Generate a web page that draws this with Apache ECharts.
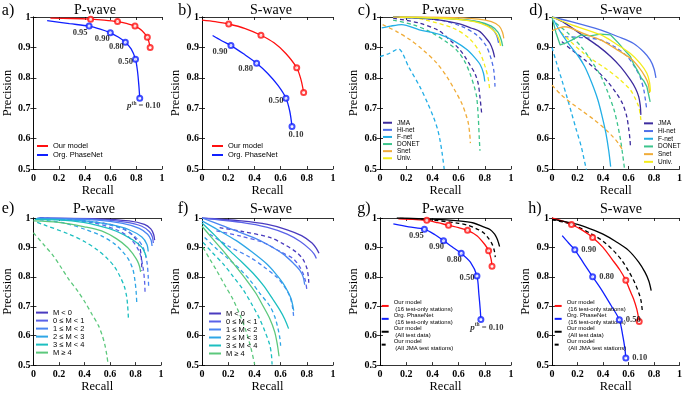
<!DOCTYPE html>
<html>
<head>
<meta charset="utf-8">
<script src="https://cdn.jsdelivr.net/npm/echarts@6/dist/echarts.min.js"></script>
<style>
html,body{margin:0;padding:0;background:#fff}
#chart{width:685px;height:394px}
</style>
</head>
<body>
<div id="chart"></div>
<script>
// ---- a) P-wave, our model vs org. PhaseNet
const aOurs = [[0.132,0.996],[0.3,0.995],[0.445,0.993],[0.55,0.99],[0.654,0.985],[0.73,0.978],[0.79,0.97],[0.845,0.955],[0.886,0.933],[0.9,0.915],[0.908,0.90]]
const aOursMarks = [[0.445,0.993],[0.654,0.985],[0.79,0.97],[0.886,0.933],[0.908,0.90]]
const aOrg = [[0.107,0.988],[0.28,0.978],[0.433,0.97],[0.52,0.96],[0.598,0.948],[0.66,0.934],[0.715,0.917],[0.76,0.895],[0.794,0.861],[0.81,0.82],[0.82,0.775],[0.827,0.733]]
const aOrgMarks = [[0.433,0.97],[0.598,0.948],[0.715,0.917],[0.794,0.861],[0.827,0.733]]
const aOrgLabels = ['0.95','0.90','0.80','0.50','{i|p}{s|th} = 0.10']

// ---- b) S-wave
const bOurs = [[0.0,0.99],[0.1,0.985],[0.204,0.977],[0.33,0.962],[0.45,0.94],[0.55,0.915],[0.64,0.88],[0.723,0.833],[0.755,0.795],[0.776,0.752]]
const bOursMarks = [[0.204,0.977],[0.45,0.94],[0.723,0.833],[0.776,0.752]]
const bOrg = [[0.081,0.939],[0.15,0.922],[0.221,0.906],[0.32,0.878],[0.417,0.848],[0.5,0.815],[0.58,0.775],[0.641,0.733],[0.67,0.69],[0.687,0.64]]
const bOrgMarks = [[0.221,0.906],[0.417,0.848],[0.641,0.733],[0.687,0.64]]
const bOrgLabels = ['0.90','0.80','0.50','0.10']

// ---- c) P-wave by network (solid = our model, dashed = org. PhaseNet)
const networks = ['JMA','Hi-net','F-net','DONET','Snet','Univ.']
const cOurs = [
  [[0.1,1.0],[0.4,0.993],[0.6,0.978],[0.7,0.963],[0.763,0.952],[0.81,0.93],[0.84,0.913],[0.862,0.89],[0.875,0.867]],
  [[0.1,1.0],[0.5,0.996],[0.7,0.988],[0.8,0.977],[0.86,0.96],[0.89,0.94],[0.905,0.915]],
  [[0.013,0.964],[0.08,0.97],[0.166,0.975],[0.3,0.958],[0.46,0.942],[0.57,0.92],[0.663,0.893],[0.72,0.868],[0.765,0.843],[0.79,0.815],[0.80,0.788]],
  [[0.1,1.0],[0.5,0.995],[0.75,0.985],[0.85,0.97],[0.9,0.95],[0.925,0.925],[0.936,0.904]],
  [[0.1,1.0],[0.5,0.999],[0.75,0.993],[0.85,0.985],[0.91,0.97],[0.935,0.95],[0.945,0.93]],
  [[0.15,1.0],[0.5,0.995],[0.72,0.985],[0.82,0.97],[0.88,0.95],[0.91,0.925],[0.92,0.905]]
]
const cOrg = [
  [[0.1,0.996],[0.3,0.98],[0.45,0.955],[0.534,0.924],[0.6,0.897],[0.649,0.869],[0.69,0.84],[0.725,0.814],[0.75,0.78],[0.763,0.737],[0.772,0.7],[0.778,0.675]],
  [[0.15,0.999],[0.45,0.99],[0.62,0.97],[0.74,0.94],[0.81,0.905],[0.85,0.86],[0.87,0.82],[0.878,0.771]],
  [[0.0,0.87],[0.07,0.88],[0.14,0.895],[0.22,0.835],[0.305,0.77],[0.36,0.72],[0.407,0.672],[0.44,0.63],[0.458,0.595],[0.475,0.55],[0.49,0.5]],
  [[0.1,0.99],[0.25,0.975],[0.38,0.952],[0.5,0.92],[0.585,0.891],[0.645,0.855],[0.687,0.814],[0.72,0.77],[0.738,0.737],[0.75,0.672],[0.758,0.6],[0.763,0.56]],
  [[0.02,0.975],[0.127,0.952],[0.23,0.925],[0.33,0.891],[0.43,0.85],[0.51,0.804],[0.57,0.76],[0.623,0.717],[0.655,0.68],[0.674,0.651],[0.685,0.615],[0.69,0.585]],
  [[0.3,0.995],[0.55,0.965],[0.68,0.93],[0.76,0.885],[0.8,0.84],[0.825,0.8],[0.836,0.766]]
]

// ---- d) S-wave by network
const dOurs = [
  [[0,1.0],[0.1,0.98],[0.256,0.935],[0.36,0.905],[0.46,0.87],[0.54,0.835],[0.615,0.793],[0.655,0.765],[0.68,0.738],[0.692,0.71],[0.697,0.678]],
  [[0,1.0],[0.15,0.985],[0.385,0.957],[0.52,0.935],[0.64,0.913],[0.72,0.885],[0.77,0.859],[0.8,0.83],[0.815,0.8]],
  [[0.013,0.99],[0.06,0.955],[0.128,0.913],[0.2,0.875],[0.256,0.837],[0.31,0.785],[0.36,0.727],[0.395,0.67],[0.423,0.617],[0.445,0.56],[0.46,0.508]],
  [[0.0,1.0],[0.03,0.95],[0.064,0.908],[0.11,0.915],[0.154,0.924],[0.23,0.941],[0.3,0.938],[0.38,0.944],[0.46,0.941],[0.52,0.915],[0.56,0.895],[0.615,0.87],[0.64,0.845],[0.667,0.826],[0.7,0.8],[0.72,0.79],[0.744,0.771],[0.755,0.75],[0.77,0.721]],
  [[0,0.955],[0.05,0.963],[0.1,0.968],[0.25,0.945],[0.385,0.924],[0.5,0.895],[0.615,0.864],[0.68,0.835],[0.73,0.804],[0.755,0.78],[0.765,0.75]],
  [[0,1.0],[0.15,0.975],[0.385,0.941],[0.5,0.912],[0.615,0.88],[0.69,0.848],[0.744,0.815],[0.765,0.785],[0.772,0.754]]
]
const dOrg = [
  [[0.077,0.919],[0.16,0.89],[0.256,0.859],[0.35,0.825],[0.436,0.787],[0.5,0.752],[0.551,0.717],[0.585,0.675],[0.603,0.628],[0.612,0.595],[0.615,0.573]],
  [[0.1,0.935],[0.25,0.932],[0.385,0.924],[0.5,0.9],[0.59,0.87],[0.65,0.835],[0.69,0.804],[0.72,0.76],[0.735,0.72],[0.744,0.694]],
  [[0,0.9],[0.035,0.85],[0.077,0.793],[0.115,0.74],[0.154,0.683],[0.19,0.63],[0.23,0.573],[0.25,0.535],[0.27,0.497]],
  [[0.03,0.98],[0.13,0.945],[0.23,0.902],[0.31,0.855],[0.385,0.804],[0.44,0.75],[0.487,0.694],[0.515,0.645],[0.538,0.595],[0.555,0.545],[0.57,0.497]],
  [[0,0.776],[0.07,0.745],[0.154,0.716],[0.24,0.69],[0.333,0.661],[0.42,0.63],[0.48,0.605],[0.52,0.585],[0.55,0.565]],
  [[0.07,0.95],[0.25,0.88],[0.436,0.826],[0.53,0.795],[0.615,0.76],[0.655,0.73],[0.68,0.705],[0.692,0.68],[0.697,0.661]]
]

// ---- e) P-wave by magnitude
const magClasses = ['M < 0','0 ≤ M < 1','1 ≤ M < 2','2 ≤ M < 3','3 ≤ M < 4','M ≥ 4']
const eOurs = [
  [[0.05,1.0],[0.5,0.997],[0.75,0.99],[0.87,0.978],[0.92,0.963],[0.942,0.945],[0.95,0.925]],
  [[0.04,1.0],[0.5,0.995],[0.72,0.986],[0.85,0.972],[0.91,0.953],[0.933,0.935],[0.94,0.915]],
  [[0.03,1.0],[0.5,0.993],[0.7,0.982],[0.83,0.965],[0.895,0.945],[0.922,0.925],[0.93,0.905]],
  [[0.02,0.998],[0.4,0.99],[0.6,0.978],[0.75,0.96],[0.85,0.935],[0.89,0.91],[0.9,0.886]],
  [[0.01,0.995],[0.3,0.99],[0.5,0.975],[0.65,0.955],[0.78,0.925],[0.85,0.9],[0.875,0.88],[0.883,0.867]],
  [[0,0.99],[0.2,0.985],[0.4,0.97],[0.534,0.956],[0.65,0.93],[0.738,0.9],[0.785,0.875],[0.814,0.855],[0.832,0.835],[0.84,0.817]]
]
const eOrg = [
  [[0.05,1.0],[0.4,0.99],[0.6,0.978],[0.72,0.96],[0.79,0.935],[0.83,0.905],[0.845,0.87],[0.85,0.82]],
  [[0.05,1.0],[0.45,0.985],[0.65,0.96],[0.76,0.93],[0.83,0.885],[0.86,0.83],[0.872,0.78],[0.875,0.745]],
  [[0.05,1.0],[0.5,0.985],[0.7,0.963],[0.8,0.935],[0.86,0.9],[0.89,0.85],[0.9,0.8],[0.903,0.765]],
  [[0.05,0.994],[0.25,0.982],[0.407,0.961],[0.53,0.94],[0.636,0.912],[0.7,0.885],[0.75,0.856],[0.78,0.825],[0.795,0.79],[0.805,0.75],[0.81,0.712]],
  [[0.03,0.985],[0.076,0.978],[0.28,0.945],[0.4,0.92],[0.509,0.889],[0.58,0.862],[0.636,0.834],[0.68,0.8],[0.712,0.768],[0.73,0.735],[0.738,0.705],[0.745,0.657]],
  [[0,0.95],[0.08,0.91],[0.153,0.873],[0.22,0.83],[0.28,0.79],[0.35,0.75],[0.407,0.712],[0.46,0.672],[0.509,0.635],[0.54,0.6],[0.56,0.569],[0.575,0.535],[0.585,0.504]]
]

// ---- f) S-wave by magnitude
const fOurs = [
  [[0,1.0],[0.3,0.99],[0.5,0.978],[0.65,0.96],[0.76,0.94],[0.84,0.915],[0.875,0.895],[0.893,0.88]],
  [[0,1.0],[0.3,0.985],[0.5,0.968],[0.65,0.945],[0.75,0.92],[0.82,0.895],[0.855,0.878],[0.873,0.862]],
  [[0,1.0],[0.15,0.975],[0.39,0.934],[0.5,0.91],[0.618,0.878],[0.7,0.845],[0.746,0.823],[0.772,0.8],[0.784,0.773]],
  [[0,0.99],[0.12,0.96],[0.262,0.923],[0.38,0.885],[0.491,0.845],[0.56,0.812],[0.618,0.779],[0.655,0.75],[0.682,0.723],[0.7,0.685]],
  [[0,0.983],[0.1,0.94],[0.211,0.889],[0.3,0.852],[0.39,0.812],[0.47,0.77],[0.542,0.723],[0.59,0.69],[0.631,0.657],[0.661,0.624]],
  [[0,0.972],[0.08,0.93],[0.16,0.889],[0.25,0.84],[0.338,0.79],[0.41,0.745],[0.466,0.701],[0.515,0.66],[0.555,0.613],[0.575,0.57],[0.588,0.53]]
]
const fOrg = [
  [[0.135,0.967],[0.3,0.955],[0.517,0.934],[0.62,0.912],[0.72,0.884],[0.77,0.86],[0.8,0.83],[0.812,0.8],[0.815,0.78]],
  [[0.11,0.956],[0.3,0.938],[0.466,0.917],[0.6,0.885],[0.695,0.862],[0.745,0.835],[0.771,0.812],[0.79,0.785],[0.8,0.757]],
  [[0.06,0.945],[0.2,0.905],[0.364,0.867],[0.47,0.835],[0.567,0.8],[0.625,0.77],[0.669,0.735],[0.69,0.7],[0.7,0.663]],
  [[0.02,0.934],[0.1,0.9],[0.186,0.867],[0.28,0.83],[0.364,0.79],[0.44,0.745],[0.517,0.701],[0.555,0.665],[0.58,0.624],[0.595,0.59],[0.6,0.566]],
  [[0.008,0.917],[0.08,0.882],[0.16,0.845],[0.24,0.8],[0.313,0.757],[0.38,0.707],[0.44,0.657],[0.48,0.615],[0.517,0.569],[0.53,0.535],[0.535,0.502]],
  [[0.008,0.9],[0.06,0.86],[0.11,0.823],[0.17,0.775],[0.237,0.723],[0.29,0.67],[0.338,0.613],[0.375,0.555],[0.402,0.502]]
]

// ---- g) P-wave, 16 test-only stations vs all data
const gOurs = [[0.14,0.997],[0.25,0.995],[0.357,0.992],[0.44,0.984],[0.523,0.975],[0.6,0.967],[0.668,0.958],[0.74,0.94],[0.8,0.91],[0.829,0.889],[0.848,0.86],[0.855,0.836]]
const gOursMarks = [[0.357,0.992],[0.523,0.975],[0.668,0.958],[0.829,0.889],[0.855,0.836]]
const gOrg = [[0.102,0.98],[0.22,0.97],[0.339,0.962],[0.42,0.943],[0.485,0.923],[0.55,0.902],[0.62,0.88],[0.69,0.85],[0.74,0.803],[0.755,0.74],[0.765,0.69],[0.77,0.655]]
const gOrgMarks = [[0.339,0.962],[0.485,0.923],[0.62,0.88],[0.74,0.803],[0.77,0.655]]
const gOrgLabels = ['0.95','0.90','0.80','0.50','{i|p}{s|th} = 0.10']
const gAll = [[0.128,1.0],[0.4,0.996],[0.6,0.99],[0.714,0.983],[0.79,0.97],[0.84,0.961],[0.875,0.945],[0.893,0.93],[0.905,0.915],[0.913,0.903]]
const gJma = [[0.15,0.999],[0.4,0.993],[0.6,0.982],[0.663,0.976],[0.73,0.965],[0.79,0.95],[0.83,0.93],[0.855,0.912],[0.872,0.89],[0.88,0.867]]

// ---- h) S-wave, 16 test-only stations vs all data
const hOurs = [[0.0,1.0],[0.08,0.99],[0.153,0.978],[0.24,0.958],[0.319,0.934],[0.4,0.9],[0.47,0.86],[0.53,0.825],[0.579,0.788],[0.61,0.755],[0.64,0.725],[0.665,0.69],[0.684,0.648]]
const hOursMarks = [[0.153,0.978],[0.319,0.934],[0.579,0.788],[0.684,0.648]]
const hOrg = [[0.08,0.94],[0.13,0.915],[0.179,0.892],[0.25,0.845],[0.319,0.80],[0.39,0.755],[0.46,0.705],[0.528,0.654],[0.555,0.6],[0.572,0.555],[0.579,0.524]]
const hOrgMarks = [[0.179,0.892],[0.319,0.80],[0.528,0.654],[0.579,0.524]]
const hOrgLabels = ['0.90','0.80','0.50','0.10']
const hAll = [[0,0.995],[0.1,0.988],[0.2,0.978],[0.3,0.963],[0.4,0.945],[0.5,0.92],[0.6,0.89],[0.68,0.85],[0.73,0.815],[0.76,0.785],[0.778,0.753]]
const hJma = [[0,0.994],[0.1,0.985],[0.19,0.972],[0.3,0.948],[0.395,0.923],[0.48,0.89],[0.548,0.856],[0.6,0.82],[0.65,0.779],[0.685,0.74],[0.70,0.715],[0.709,0.681]]

// ---- layout / style
const SERIF = 'Liberation Serif', SANS = 'Liberation Sans'
const RED = '#ff1010', BLUE = '#1020ff'
const netColors = ['#3d2c9e','#4f6fe8','#22aee6','#3cc48c','#f0ac38','#f4ec1c']
const magColors = ['#4a3bbf','#5a62e8','#4a86f2','#2fa6e6','#1cbfc0','#5cc87c']
const grids = [
  {left:31,top:17,width:131,height:152},{left:202,top:17,width:131,height:152},
  {left:380,top:17,width:131,height:152},{left:552,top:17,width:130,height:152},
  {left:30,top:218,width:131,height:151},{left:202,top:218,width:131,height:151},
  {left:380,top:218,width:131,height:151},{left:552,top:218,width:130,height:151}
]
const heads = [
  {t:'P-wave',x:95,y:10,l:'a)',lx:8,ly:11},{t:'S-wave',x:271,y:10,l:'b)',lx:185,ly:11},
  {t:'P-wave',x:443,y:10,l:'c)',lx:364,ly:11},{t:'S-wave',x:621,y:10,l:'d)',lx:536,ly:11},
  {t:'P-wave',x:94,y:209,l:'e)',lx:8,ly:209},{t:'S-wave',x:271,y:209,l:'f)',lx:183,ly:209},
  {t:'P-wave',x:443,y:209,l:'g)',lx:364,ly:209},{t:'S-wave',x:621,y:209,l:'h)',lx:535,ly:209}
]

const series = []
function curve(name, gi, pts, color, dashed, smooth) {
  series.push({
    type:'line', name, xAxisIndex:gi, yAxisIndex:gi, data:pts, symbol:'none',
    smooth: smooth === undefined ? 0.3 : smooth, z: dashed ? 2 : 3,
    lineStyle:{color, width:1.3, type: dashed ? [4,3] : 'solid'}, itemStyle:{color}
  })
}
const markLabelBase = {show:true, position:'inside', align:'center', verticalAlign:'middle',
  fontFamily:SERIF, fontWeight:'bold', fontSize:8.5, color:'#000',
  rich:{i:{fontFamily:SERIF, fontStyle:'italic', fontWeight:'bold', fontSize:9, color:'#000'},
        s:{fontFamily:SERIF, fontWeight:'bold', fontSize:5.5, color:'#000', verticalAlign:'top', padding:[0,0,5,0]}}}
function marks(gi, pts, color, labels, offsets) {
  series.push({
    type:'scatter', xAxisIndex:gi, yAxisIndex:gi, symbol:'emptyCircle', symbolSize:5, z:5,
    itemStyle:{color, borderColor:color, borderWidth:1.3},
    data: pts.map((p, i) => {
      const item = {value:p}
      if (labels) {
        const off = offsets[i]
        item.label = off === 'right'
          ? Object.assign({}, markLabelBase, {formatter:labels[i], position:'right', distance:3, align:'left'})
          : Object.assign({}, markLabelBase, {formatter:labels[i], offset:off})
      }
      return item
    })
  })
}

// a
curve('Our model', 0, aOurs, RED); curve('Org. PhaseNet', 0, aOrg, BLUE)
marks(0, aOursMarks, RED)
marks(0, aOrgMarks, BLUE, aOrgLabels, [[-9,7],[-8,6],[-9,5],[-10,3],[4,8]])
// b
curve('Our model', 1, bOurs, RED); curve('Org. PhaseNet', 1, bOrg, BLUE)
marks(1, bOursMarks, RED)
marks(1, bOrgMarks, BLUE, bOrgLabels, [[-11,6],[-11,6],[-10,3],[4,8]])
// c, d
networks.forEach((n, k) => { curve(n, 2, cOurs[k], netColors[k]) })
networks.forEach((n, k) => { curve(n, 2, cOrg[k], netColors[k], true) })
networks.forEach((n, k) => { curve(n, 3, dOurs[k], netColors[k], false, n === 'DONET' ? 0 : 0.3) })
networks.forEach((n, k) => { curve(n, 3, dOrg[k], netColors[k], true) })
// e, f
magClasses.forEach((n, k) => { curve(n, 4, eOurs[k], magColors[k]) })
magClasses.forEach((n, k) => { curve(n, 4, eOrg[k], magColors[k], true) })
magClasses.forEach((n, k) => { curve(n, 5, fOurs[k], magColors[k]) })
magClasses.forEach((n, k) => { curve(n, 5, fOrg[k], magColors[k], true) })
// g
curve('ours16', 6, gOurs, RED); curve('org16', 6, gOrg, BLUE)
curve('oursAll', 6, gAll, '#000'); curve('oursJma', 6, gJma, '#000', true)
marks(6, gOursMarks, RED)
marks(6, gOrgMarks, BLUE, gOrgLabels, [[-8,7],[-7,6],[-7,6],[-10,2],[6,8]])
// h
curve('ours16', 7, hOurs, RED); curve('org16', 7, hOrg, BLUE)
curve('oursAll', 7, hAll, '#000'); curve('oursJma', 7, hJma, '#000', true)
marks(7, hOursMarks, RED)
marks(7, hOrgMarks, BLUE, hOrgLabels, ['right','right','right','right'])

const legendText = {
  ours16:'Our model\n (16 test-only stations)', org16:'Org. PhaseNet\n (16 test-only stations)',
  oursAll:'Our model\n (All test data)', oursJma:'Our model\n (All JMA test stations)'
}
function legend(names, left, top, itemWidth, rowH, fontSize, lineWidth, textLineH) {
  return {
    data:names, left, top, orient:'vertical', padding:0, itemGap:0, itemWidth, itemHeight:rowH,
    height:200, selectedMode:false,
    formatter: n => legendText[n] || n,
    itemStyle:{color:'rgba(0,0,0,0)', borderWidth:0},
    lineStyle: lineWidth ? {width:lineWidth} : {},
    textStyle:{fontFamily:SANS, fontSize, lineHeight: textLineH || rowH, color:'#000'}
  }
}
const g4 = ['ours16','org16','oursAll','oursJma']

const fmtX = v => v === 0 ? '0' : v === 1 ? '1' : v.toFixed(1)
const fmtY = v => v === 1 ? '1' : v.toFixed(1)
const xAxes = [], yAxes = []
const tickStyle = {inside:true, length:3, lineStyle:{color:'#000', width:0.8}}
const labelStyle = {fontFamily:SERIF, fontWeight:'bold', fontSize:10, color:'#000'}
const nameStyle = {fontFamily:SERIF, fontSize:12.5, color:'#000'}
grids.forEach((g, i) => {
  xAxes.push({gridIndex:i, type:'value', min:0, max:1, interval:0.2, name:'Recall', nameLocation:'middle',
    nameGap:14, nameTextStyle:nameStyle, axisLine:{lineStyle:{color:'#000', width:0.8}}, axisTick:tickStyle,
    axisLabel:Object.assign({margin:4, formatter:fmtX}, labelStyle), splitLine:{show:false}})
  yAxes.push({gridIndex:i, type:'value', min:0.5, max:1, interval:0.1, name:'Precision', nameLocation:'middle',
    nameGap:18, nameTextStyle:nameStyle, axisLine:{lineStyle:{color:'#000', width:0.8}}, axisTick:tickStyle,
    axisLabel:Object.assign({margin:3, formatter:fmtY}, labelStyle), splitLine:{show:false}})
})
grids.forEach((g, i) => {
  xAxes.push({gridIndex:i, type:'value', min:0, max:1, interval:0.2, position:'top',
    axisLine:{lineStyle:{color:'#000', width:0.8}}, axisTick:tickStyle, axisLabel:{show:false}, splitLine:{show:false}})
  yAxes.push({gridIndex:i, type:'value', min:0.5, max:1, interval:0.1, position:'right',
    axisLine:{lineStyle:{color:'#000', width:0.8}}, axisTick:tickStyle, axisLabel:{show:false}, splitLine:{show:false}})
})

const graphic = []
heads.forEach(h => {
  graphic.push({type:'text', x:h.x, y:h.y, style:{text:h.t, fontFamily:SERIF, fontSize:14, fill:'#000', textAlign:'center', textVerticalAlign:'middle'}})
  graphic.push({type:'text', x:h.lx, y:h.ly, style:{text:h.l, fontFamily:SERIF, fontSize:16, fill:'#000', textAlign:'center', textVerticalAlign:'middle'}})
})

const chart = echarts.init(document.getElementById('chart'), null, {renderer:'canvas'})
chart.setOption({
  animation:false,
  backgroundColor:'#fff',
  grid:grids,
  xAxis:xAxes,
  yAxis:yAxes,
  legend:[
    legend(['Our model','Org. PhaseNet'], 36, 141.5, 11, 9, 7.5),
    legend(['Our model','Org. PhaseNet'], 211, 141.5, 11, 9, 7.5),
    legend(networks, 382, 119.2, 9, 7.1, 6.5),
    legend(networks, 643, 119.5, 9, 7.7, 6.5),
    legend(magClasses, 35, 308.6, 12, 7.45, 7.5, 2),
    legend(magClasses, 208, 309.5, 12, 7.5, 7.5, 2),
    legend(g4, 380, 299.5, 7, 12.9, 6, 0, 6.45),
    legend(g4, 553, 299.5, 7, 12.9, 6, 0, 6.45)
  ],
  graphic,
  series
})
</script>
</body>
</html>
